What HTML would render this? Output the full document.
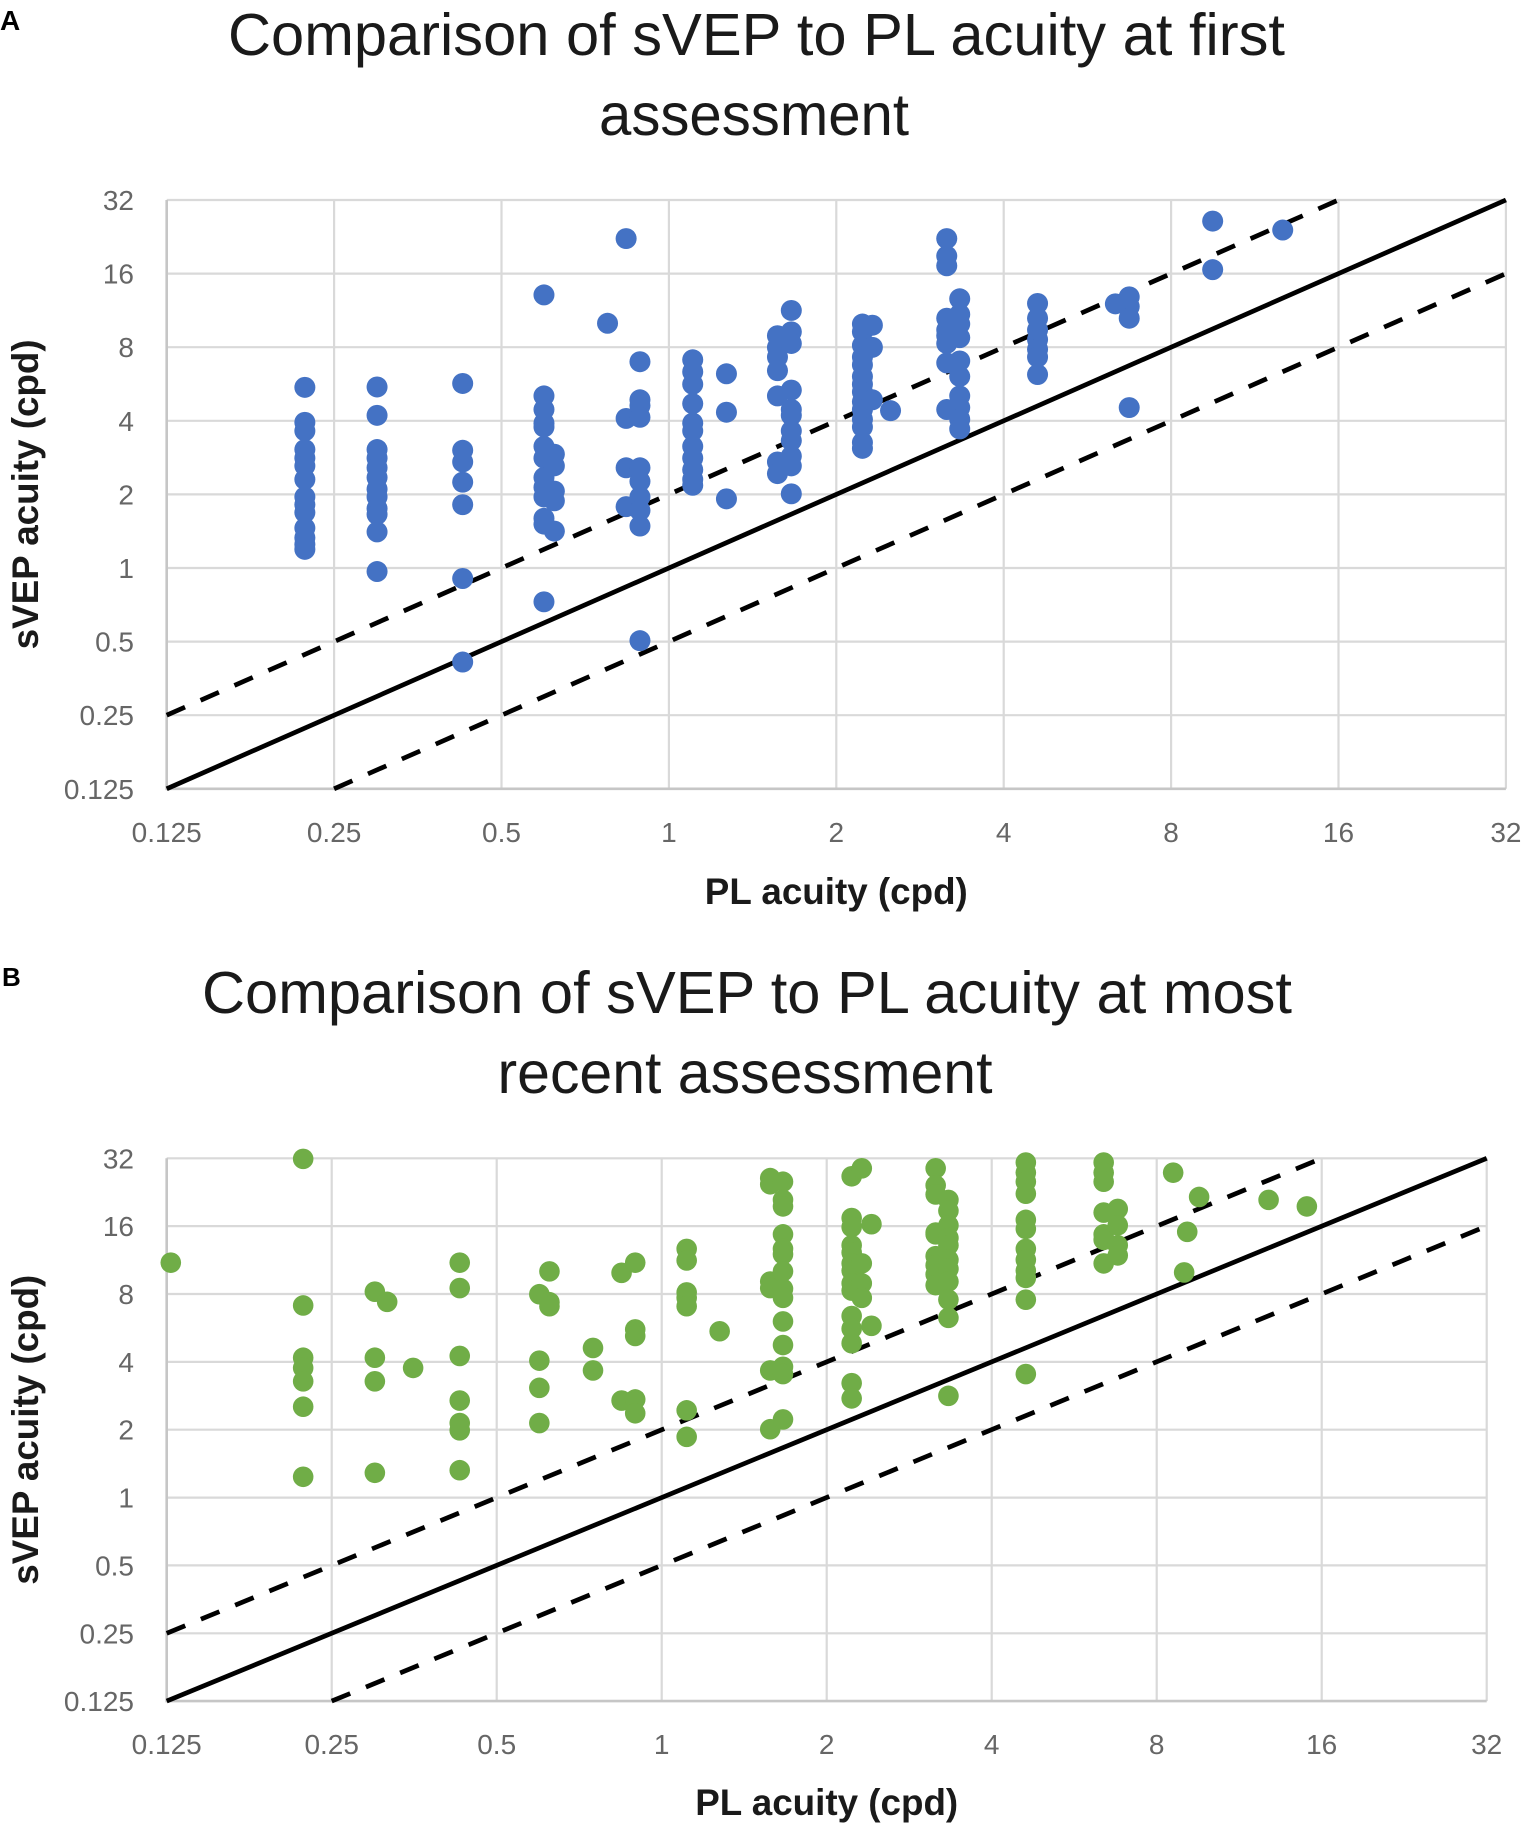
<!DOCTYPE html>
<html>
<head>
<meta charset="utf-8">
<style>
html,body{margin:0;padding:0;background:#fff;}
svg{display:block;}
.tk{font-family:"Liberation Sans",Arial,sans-serif;font-size:28px;fill:#666;}
.ttl{font-family:"Liberation Sans",Arial,sans-serif;font-size:59px;fill:#1a1a1a;}
.ax{font-family:"Liberation Sans",Arial,sans-serif;font-size:37px;font-weight:bold;fill:#1a1a1a;}
.pl{font-family:"Liberation Sans",Arial,sans-serif;font-weight:bold;fill:#000;}
.g{stroke:#d9d9d9;stroke-width:2.2;fill:none;}
.axl{stroke:#c6c6c6;stroke-width:2.6;fill:none;}
.sl{stroke:#000;stroke-width:4.7;fill:none;}
.dl{stroke:#000;stroke-width:4.7;fill:none;stroke-dasharray:20 17;}
</style>
</head>
<body>
<svg width="1524" height="1832" viewBox="0 0 1524 1832" xmlns="http://www.w3.org/2000/svg">
<rect x="0" y="0" width="1524" height="1832" fill="#fff"/>

<!-- ================= PANEL A ================= -->
<text class="pl" x="0" y="30" font-size="28">A</text>
<text class="ttl" x="756.5" y="55" text-anchor="middle" textLength="1057" lengthAdjust="spacingAndGlyphs">Comparison of sVEP to PL acuity at first</text>
<text class="ttl" x="754" y="135" text-anchor="middle" textLength="310" lengthAdjust="spacingAndGlyphs">assessment</text>

<g class="g">
<path d="M334.1,200V788.8 M501.5,200V788.8 M668.9,200V788.8 M836.3,200V788.8 M1003.7,200V788.8 M1171.1,200V788.8 M1338.5,200V788.8 M1505.9,200V788.8"/>
<path d="M166.7,200H1505.9 M166.7,273.6H1505.9 M166.7,347.2H1505.9 M166.7,420.8H1505.9 M166.7,494.4H1505.9 M166.7,568H1505.9 M166.7,641.6H1505.9 M166.7,715.2H1505.9"/>
</g>
<path class="axl" d="M166.7,200V788.8H1505.9"/>

<g class="tk" text-anchor="end">
<text x="134" y="210">32</text>
<text x="134" y="283.6">16</text>
<text x="134" y="357.2">8</text>
<text x="134" y="430.8">4</text>
<text x="134" y="504.4">2</text>
<text x="134" y="578">1</text>
<text x="134" y="651.6">0.5</text>
<text x="134" y="725.2">0.25</text>
<text x="134" y="798.8">0.125</text>
</g>
<g class="tk" text-anchor="middle">
<text x="166.7" y="842">0.125</text>
<text x="334.1" y="842">0.25</text>
<text x="501.5" y="842">0.5</text>
<text x="668.9" y="842">1</text>
<text x="836.3" y="842">2</text>
<text x="1003.7" y="842">4</text>
<text x="1171.1" y="842">8</text>
<text x="1338.5" y="842">16</text>
<text x="1505.9" y="842">32</text>
</g>
<text class="ax" x="836.3" y="904" text-anchor="middle" textLength="263" lengthAdjust="spacingAndGlyphs">PL acuity (cpd)</text>
<text class="ax" transform="translate(38,494.4) rotate(-90)" text-anchor="middle" textLength="310" lengthAdjust="spacingAndGlyphs">sVEP acuity (cpd)</text>

<path class="sl" d="M166.7,788.8L1505.9,200"/>
<path class="dl" d="M166.7,715.2L1338.5,200"/>
<path class="dl" d="M334.1,788.8L1505.9,273.6"/>

<g fill="#4472C4" transform="translate(160,190) scale(0.4324,0.3885)">
<ellipse cx="335" cy="508" rx="24.3" ry="27"/><ellipse cx="335" cy="598" rx="24.3" ry="27"/><ellipse cx="335" cy="620" rx="24.3" ry="27"/><ellipse cx="335" cy="668" rx="24.3" ry="27"/><ellipse cx="335" cy="690" rx="24.3" ry="27"/><ellipse cx="335" cy="710" rx="24.3" ry="27"/><ellipse cx="335" cy="745" rx="24.3" ry="27"/><ellipse cx="335" cy="790" rx="24.3" ry="27"/><ellipse cx="335" cy="810" rx="24.3" ry="27"/><ellipse cx="335" cy="830" rx="24.3" ry="27"/><ellipse cx="335" cy="870" rx="24.3" ry="27"/><ellipse cx="335" cy="895" rx="24.3" ry="27"/><ellipse cx="335" cy="912" rx="24.3" ry="27"/><ellipse cx="335" cy="925" rx="24.3" ry="27"/>
<ellipse cx="502" cy="507" rx="24.3" ry="27"/><ellipse cx="502" cy="580" rx="24.3" ry="27"/><ellipse cx="502" cy="668" rx="24.3" ry="27"/><ellipse cx="502" cy="690" rx="24.3" ry="27"/><ellipse cx="502" cy="715" rx="24.3" ry="27"/><ellipse cx="502" cy="740" rx="24.3" ry="27"/><ellipse cx="502" cy="770" rx="24.3" ry="27"/><ellipse cx="502" cy="790" rx="24.3" ry="27"/><ellipse cx="502" cy="820" rx="24.3" ry="27"/><ellipse cx="502" cy="835" rx="24.3" ry="27"/><ellipse cx="502" cy="880" rx="24.3" ry="27"/><ellipse cx="502" cy="982" rx="24.3" ry="27"/>
<ellipse cx="700" cy="498" rx="24.3" ry="27"/><ellipse cx="700" cy="670" rx="24.3" ry="27"/><ellipse cx="700" cy="700" rx="24.3" ry="27"/><ellipse cx="700" cy="752" rx="24.3" ry="27"/><ellipse cx="700" cy="810" rx="24.3" ry="27"/><ellipse cx="700" cy="1000" rx="24.3" ry="27"/><ellipse cx="700" cy="1215" rx="24.3" ry="27"/>
<ellipse cx="888" cy="270" rx="24.3" ry="27"/><ellipse cx="888" cy="530" rx="24.3" ry="27"/><ellipse cx="888" cy="565" rx="24.3" ry="27"/><ellipse cx="888" cy="600" rx="24.3" ry="27"/><ellipse cx="888" cy="610" rx="24.3" ry="27"/><ellipse cx="888" cy="660" rx="24.3" ry="27"/><ellipse cx="888" cy="690" rx="24.3" ry="27"/><ellipse cx="888" cy="740" rx="24.3" ry="27"/><ellipse cx="888" cy="765" rx="24.3" ry="27"/><ellipse cx="888" cy="790" rx="24.3" ry="27"/><ellipse cx="888" cy="845" rx="24.3" ry="27"/><ellipse cx="888" cy="860" rx="24.3" ry="27"/><ellipse cx="888" cy="1060" rx="24.3" ry="27"/>
<ellipse cx="912" cy="680" rx="24.3" ry="27"/><ellipse cx="912" cy="710" rx="24.3" ry="27"/><ellipse cx="912" cy="775" rx="24.3" ry="27"/><ellipse cx="912" cy="800" rx="24.3" ry="27"/><ellipse cx="912" cy="878" rx="24.3" ry="27"/>
<ellipse cx="1035" cy="343" rx="24.3" ry="27"/>
<ellipse cx="1078" cy="125" rx="24.3" ry="27"/><ellipse cx="1078" cy="588" rx="24.3" ry="27"/><ellipse cx="1078" cy="715" rx="24.3" ry="27"/><ellipse cx="1078" cy="815" rx="24.3" ry="27"/>
<ellipse cx="1110" cy="442" rx="24.3" ry="27"/><ellipse cx="1110" cy="540" rx="24.3" ry="27"/><ellipse cx="1110" cy="555" rx="24.3" ry="27"/><ellipse cx="1110" cy="585" rx="24.3" ry="27"/><ellipse cx="1110" cy="715" rx="24.3" ry="27"/><ellipse cx="1110" cy="750" rx="24.3" ry="27"/><ellipse cx="1110" cy="790" rx="24.3" ry="27"/><ellipse cx="1110" cy="825" rx="24.3" ry="27"/><ellipse cx="1110" cy="865" rx="24.3" ry="27"/><ellipse cx="1110" cy="1160" rx="24.3" ry="27"/>
<ellipse cx="1232" cy="437" rx="24.3" ry="27"/><ellipse cx="1232" cy="468" rx="24.3" ry="27"/><ellipse cx="1232" cy="500" rx="24.3" ry="27"/><ellipse cx="1232" cy="550" rx="24.3" ry="27"/><ellipse cx="1232" cy="600" rx="24.3" ry="27"/><ellipse cx="1232" cy="620" rx="24.3" ry="27"/><ellipse cx="1232" cy="660" rx="24.3" ry="27"/><ellipse cx="1232" cy="690" rx="24.3" ry="27"/><ellipse cx="1232" cy="720" rx="24.3" ry="27"/><ellipse cx="1232" cy="745" rx="24.3" ry="27"/><ellipse cx="1232" cy="760" rx="24.3" ry="27"/>
<ellipse cx="1310" cy="473" rx="24.3" ry="27"/><ellipse cx="1310" cy="572" rx="24.3" ry="27"/><ellipse cx="1310" cy="795" rx="24.3" ry="27"/>
<ellipse cx="1428" cy="375" rx="24.3" ry="27"/><ellipse cx="1428" cy="405" rx="24.3" ry="27"/><ellipse cx="1428" cy="430" rx="24.3" ry="27"/><ellipse cx="1428" cy="465" rx="24.3" ry="27"/><ellipse cx="1428" cy="530" rx="24.3" ry="27"/><ellipse cx="1428" cy="700" rx="24.3" ry="27"/><ellipse cx="1428" cy="730" rx="24.3" ry="27"/>
<ellipse cx="1460" cy="310" rx="24.3" ry="27"/><ellipse cx="1460" cy="365" rx="24.3" ry="27"/><ellipse cx="1460" cy="395" rx="24.3" ry="27"/><ellipse cx="1460" cy="515" rx="24.3" ry="27"/><ellipse cx="1460" cy="565" rx="24.3" ry="27"/><ellipse cx="1460" cy="580" rx="24.3" ry="27"/><ellipse cx="1460" cy="620" rx="24.3" ry="27"/><ellipse cx="1460" cy="645" rx="24.3" ry="27"/><ellipse cx="1460" cy="685" rx="24.3" ry="27"/><ellipse cx="1460" cy="710" rx="24.3" ry="27"/><ellipse cx="1460" cy="782" rx="24.3" ry="27"/>
</g>

<g fill="#4472C4" transform="translate(830,190) scale(0.4324,0.3885)">
<ellipse cx="75" cy="345" rx="24.3" ry="27"/><ellipse cx="75" cy="365" rx="24.3" ry="27"/><ellipse cx="75" cy="400" rx="24.3" ry="27"/><ellipse cx="75" cy="430" rx="24.3" ry="27"/><ellipse cx="75" cy="450" rx="24.3" ry="27"/><ellipse cx="75" cy="480" rx="24.3" ry="27"/><ellipse cx="75" cy="500" rx="24.3" ry="27"/><ellipse cx="75" cy="520" rx="24.3" ry="27"/><ellipse cx="75" cy="545" rx="24.3" ry="27"/><ellipse cx="75" cy="565" rx="24.3" ry="27"/><ellipse cx="75" cy="590" rx="24.3" ry="27"/><ellipse cx="75" cy="610" rx="24.3" ry="27"/><ellipse cx="75" cy="650" rx="24.3" ry="27"/><ellipse cx="75" cy="665" rx="24.3" ry="27"/>
<ellipse cx="98" cy="348" rx="24.3" ry="27"/><ellipse cx="98" cy="405" rx="24.3" ry="27"/><ellipse cx="98" cy="540" rx="24.3" ry="27"/>
<ellipse cx="140" cy="568" rx="24.3" ry="27"/>
<ellipse cx="270" cy="125" rx="24.3" ry="27"/><ellipse cx="270" cy="170" rx="24.3" ry="27"/><ellipse cx="270" cy="195" rx="24.3" ry="27"/><ellipse cx="270" cy="330" rx="24.3" ry="27"/><ellipse cx="270" cy="360" rx="24.3" ry="27"/><ellipse cx="270" cy="375" rx="24.3" ry="27"/><ellipse cx="270" cy="395" rx="24.3" ry="27"/><ellipse cx="270" cy="445" rx="24.3" ry="27"/><ellipse cx="270" cy="565" rx="24.3" ry="27"/>
<ellipse cx="300" cy="280" rx="24.3" ry="27"/><ellipse cx="300" cy="320" rx="24.3" ry="27"/><ellipse cx="300" cy="345" rx="24.3" ry="27"/><ellipse cx="300" cy="380" rx="24.3" ry="27"/><ellipse cx="300" cy="440" rx="24.3" ry="27"/><ellipse cx="300" cy="480" rx="24.3" ry="27"/><ellipse cx="300" cy="530" rx="24.3" ry="27"/><ellipse cx="300" cy="560" rx="24.3" ry="27"/><ellipse cx="300" cy="590" rx="24.3" ry="27"/><ellipse cx="300" cy="615" rx="24.3" ry="27"/>
<ellipse cx="480" cy="292" rx="24.3" ry="27"/><ellipse cx="480" cy="330" rx="24.3" ry="27"/><ellipse cx="480" cy="360" rx="24.3" ry="27"/><ellipse cx="480" cy="385" rx="24.3" ry="27"/><ellipse cx="480" cy="410" rx="24.3" ry="27"/><ellipse cx="480" cy="430" rx="24.3" ry="27"/><ellipse cx="480" cy="475" rx="24.3" ry="27"/>
<ellipse cx="660" cy="293" rx="24.3" ry="27"/>
<ellipse cx="692" cy="275" rx="24.3" ry="27"/><ellipse cx="692" cy="300" rx="24.3" ry="27"/><ellipse cx="692" cy="330" rx="24.3" ry="27"/><ellipse cx="692" cy="560" rx="24.3" ry="27"/>
<ellipse cx="885" cy="80" rx="24.3" ry="27"/><ellipse cx="885" cy="205" rx="24.3" ry="27"/>
<ellipse cx="1047" cy="103" rx="24.3" ry="27"/>
</g>

<!-- ================= PANEL B ================= -->
<text class="pl" x="2" y="986" font-size="26">B</text>
<text class="ttl" x="747" y="1013" text-anchor="middle" textLength="1090" lengthAdjust="spacingAndGlyphs">Comparison of sVEP to PL acuity at most</text>
<text class="ttl" x="745" y="1093" text-anchor="middle" textLength="495" lengthAdjust="spacingAndGlyphs">recent assessment</text>

<g class="g">
<path d="M331.7,1158.3V1701.1 M496.7,1158.3V1701.1 M661.7,1158.3V1701.1 M826.7,1158.3V1701.1 M991.7,1158.3V1701.1 M1156.7,1158.3V1701.1 M1321.7,1158.3V1701.1 M1486.7,1158.3V1701.1"/>
<path d="M166.7,1158.3H1486.7 M166.7,1226.1H1486.7 M166.7,1294H1486.7 M166.7,1361.9H1486.7 M166.7,1429.7H1486.7 M166.7,1497.6H1486.7 M166.7,1565.4H1486.7 M166.7,1633.3H1486.7"/>
</g>
<path class="axl" d="M166.7,1158.3V1701.1H1486.7"/>

<g class="tk" text-anchor="end">
<text x="134" y="1168.3">32</text>
<text x="134" y="1236.1">16</text>
<text x="134" y="1304">8</text>
<text x="134" y="1371.9">4</text>
<text x="134" y="1439.7">2</text>
<text x="134" y="1507.6">1</text>
<text x="134" y="1575.4">0.5</text>
<text x="134" y="1643.3">0.25</text>
<text x="134" y="1711.1">0.125</text>
</g>
<g class="tk" text-anchor="middle">
<text x="166.7" y="1754">0.125</text>
<text x="331.7" y="1754">0.25</text>
<text x="496.7" y="1754">0.5</text>
<text x="661.7" y="1754">1</text>
<text x="826.7" y="1754">2</text>
<text x="991.7" y="1754">4</text>
<text x="1156.7" y="1754">8</text>
<text x="1321.7" y="1754">16</text>
<text x="1486.7" y="1754">32</text>
</g>
<text class="ax" x="826.7" y="1815" text-anchor="middle" textLength="263" lengthAdjust="spacingAndGlyphs">PL acuity (cpd)</text>
<text class="ax" transform="translate(38,1429.7) rotate(-90)" text-anchor="middle" textLength="310" lengthAdjust="spacingAndGlyphs">sVEP acuity (cpd)</text>

<path class="sl" d="M166.7,1701.1L1486.7,1158.3"/>
<path class="dl" d="M166.7,1633.3L1321.7,1158.3"/>
<path class="dl" d="M331.7,1701.1L1486.7,1226.1"/>

<g fill="#70AD47" transform="translate(140,1140) scale(0.4398,0.3629)">
<ellipse cx="70" cy="338" rx="23.4" ry="28.4"/>
<ellipse cx="371" cy="52" rx="23.4" ry="28.4"/><ellipse cx="371" cy="456" rx="23.4" ry="28.4"/><ellipse cx="371" cy="600" rx="23.4" ry="28.4"/><ellipse cx="371" cy="628" rx="23.4" ry="28.4"/><ellipse cx="371" cy="665" rx="23.4" ry="28.4"/><ellipse cx="371" cy="735" rx="23.4" ry="28.4"/><ellipse cx="371" cy="928" rx="23.4" ry="28.4"/>
<ellipse cx="534" cy="418" rx="23.4" ry="28.4"/><ellipse cx="534" cy="600" rx="23.4" ry="28.4"/><ellipse cx="534" cy="665" rx="23.4" ry="28.4"/><ellipse cx="534" cy="917" rx="23.4" ry="28.4"/>
<ellipse cx="562" cy="446" rx="23.4" ry="28.4"/><ellipse cx="621" cy="628" rx="23.4" ry="28.4"/>
<ellipse cx="727" cy="338" rx="23.4" ry="28.4"/><ellipse cx="727" cy="408" rx="23.4" ry="28.4"/><ellipse cx="727" cy="595" rx="23.4" ry="28.4"/><ellipse cx="727" cy="718" rx="23.4" ry="28.4"/><ellipse cx="727" cy="780" rx="23.4" ry="28.4"/><ellipse cx="727" cy="800" rx="23.4" ry="28.4"/><ellipse cx="727" cy="910" rx="23.4" ry="28.4"/>
<ellipse cx="908" cy="425" rx="23.4" ry="28.4"/><ellipse cx="908" cy="608" rx="23.4" ry="28.4"/><ellipse cx="908" cy="683" rx="23.4" ry="28.4"/><ellipse cx="908" cy="780" rx="23.4" ry="28.4"/>
<ellipse cx="931" cy="362" rx="23.4" ry="28.4"/><ellipse cx="931" cy="447" rx="23.4" ry="28.4"/><ellipse cx="931" cy="458" rx="23.4" ry="28.4"/>
<ellipse cx="1030" cy="573" rx="23.4" ry="28.4"/><ellipse cx="1030" cy="635" rx="23.4" ry="28.4"/>
<ellipse cx="1095" cy="366" rx="23.4" ry="28.4"/><ellipse cx="1095" cy="718" rx="23.4" ry="28.4"/>
<ellipse cx="1126" cy="338" rx="23.4" ry="28.4"/><ellipse cx="1126" cy="522" rx="23.4" ry="28.4"/><ellipse cx="1126" cy="540" rx="23.4" ry="28.4"/><ellipse cx="1126" cy="715" rx="23.4" ry="28.4"/><ellipse cx="1126" cy="753" rx="23.4" ry="28.4"/>
<ellipse cx="1243" cy="300" rx="23.4" ry="28.4"/><ellipse cx="1243" cy="332" rx="23.4" ry="28.4"/><ellipse cx="1243" cy="420" rx="23.4" ry="28.4"/><ellipse cx="1243" cy="435" rx="23.4" ry="28.4"/><ellipse cx="1243" cy="458" rx="23.4" ry="28.4"/><ellipse cx="1243" cy="745" rx="23.4" ry="28.4"/><ellipse cx="1243" cy="818" rx="23.4" ry="28.4"/>
<ellipse cx="1318" cy="527" rx="23.4" ry="28.4"/>
<ellipse cx="1433" cy="105" rx="23.4" ry="28.4"/><ellipse cx="1433" cy="122" rx="23.4" ry="28.4"/><ellipse cx="1433" cy="390" rx="23.4" ry="28.4"/><ellipse cx="1433" cy="408" rx="23.4" ry="28.4"/><ellipse cx="1433" cy="635" rx="23.4" ry="28.4"/><ellipse cx="1433" cy="797" rx="23.4" ry="28.4"/>
<ellipse cx="1462" cy="115" rx="23.4" ry="28.4"/><ellipse cx="1462" cy="165" rx="23.4" ry="28.4"/><ellipse cx="1462" cy="183" rx="23.4" ry="28.4"/><ellipse cx="1462" cy="260" rx="23.4" ry="28.4"/><ellipse cx="1462" cy="300" rx="23.4" ry="28.4"/><ellipse cx="1462" cy="315" rx="23.4" ry="28.4"/><ellipse cx="1462" cy="362" rx="23.4" ry="28.4"/><ellipse cx="1462" cy="410" rx="23.4" ry="28.4"/><ellipse cx="1462" cy="435" rx="23.4" ry="28.4"/><ellipse cx="1462" cy="500" rx="23.4" ry="28.4"/><ellipse cx="1462" cy="565" rx="23.4" ry="28.4"/><ellipse cx="1462" cy="625" rx="23.4" ry="28.4"/><ellipse cx="1462" cy="645" rx="23.4" ry="28.4"/><ellipse cx="1462" cy="770" rx="23.4" ry="28.4"/>
</g>

<g fill="#70AD47" transform="translate(820,1140) scale(0.4398,0.3629)">
<ellipse cx="72" cy="100" rx="23.4" ry="28.4"/><ellipse cx="72" cy="215" rx="23.4" ry="28.4"/><ellipse cx="72" cy="240" rx="23.4" ry="28.4"/><ellipse cx="72" cy="290" rx="23.4" ry="28.4"/><ellipse cx="72" cy="310" rx="23.4" ry="28.4"/><ellipse cx="72" cy="340" rx="23.4" ry="28.4"/><ellipse cx="72" cy="360" rx="23.4" ry="28.4"/><ellipse cx="72" cy="395" rx="23.4" ry="28.4"/><ellipse cx="72" cy="415" rx="23.4" ry="28.4"/><ellipse cx="72" cy="485" rx="23.4" ry="28.4"/><ellipse cx="72" cy="520" rx="23.4" ry="28.4"/><ellipse cx="72" cy="560" rx="23.4" ry="28.4"/><ellipse cx="72" cy="670" rx="23.4" ry="28.4"/><ellipse cx="72" cy="712" rx="23.4" ry="28.4"/>
<ellipse cx="95" cy="78" rx="23.4" ry="28.4"/><ellipse cx="95" cy="340" rx="23.4" ry="28.4"/><ellipse cx="95" cy="395" rx="23.4" ry="28.4"/><ellipse cx="95" cy="435" rx="23.4" ry="28.4"/>
<ellipse cx="117" cy="232" rx="23.4" ry="28.4"/><ellipse cx="117" cy="512" rx="23.4" ry="28.4"/>
<ellipse cx="263" cy="78" rx="23.4" ry="28.4"/><ellipse cx="263" cy="125" rx="23.4" ry="28.4"/><ellipse cx="263" cy="150" rx="23.4" ry="28.4"/><ellipse cx="263" cy="255" rx="23.4" ry="28.4"/><ellipse cx="263" cy="260" rx="23.4" ry="28.4"/><ellipse cx="263" cy="320" rx="23.4" ry="28.4"/><ellipse cx="263" cy="345" rx="23.4" ry="28.4"/><ellipse cx="263" cy="370" rx="23.4" ry="28.4"/><ellipse cx="263" cy="400" rx="23.4" ry="28.4"/>
<ellipse cx="292" cy="165" rx="23.4" ry="28.4"/><ellipse cx="292" cy="195" rx="23.4" ry="28.4"/><ellipse cx="292" cy="235" rx="23.4" ry="28.4"/><ellipse cx="292" cy="270" rx="23.4" ry="28.4"/><ellipse cx="292" cy="290" rx="23.4" ry="28.4"/><ellipse cx="292" cy="330" rx="23.4" ry="28.4"/><ellipse cx="292" cy="355" rx="23.4" ry="28.4"/><ellipse cx="292" cy="390" rx="23.4" ry="28.4"/><ellipse cx="292" cy="440" rx="23.4" ry="28.4"/><ellipse cx="292" cy="490" rx="23.4" ry="28.4"/><ellipse cx="292" cy="705" rx="23.4" ry="28.4"/>
<ellipse cx="468" cy="62" rx="23.4" ry="28.4"/><ellipse cx="468" cy="90" rx="23.4" ry="28.4"/><ellipse cx="468" cy="115" rx="23.4" ry="28.4"/><ellipse cx="468" cy="148" rx="23.4" ry="28.4"/><ellipse cx="468" cy="220" rx="23.4" ry="28.4"/><ellipse cx="468" cy="245" rx="23.4" ry="28.4"/><ellipse cx="468" cy="300" rx="23.4" ry="28.4"/><ellipse cx="468" cy="330" rx="23.4" ry="28.4"/><ellipse cx="468" cy="360" rx="23.4" ry="28.4"/><ellipse cx="468" cy="380" rx="23.4" ry="28.4"/><ellipse cx="468" cy="440" rx="23.4" ry="28.4"/><ellipse cx="468" cy="645" rx="23.4" ry="28.4"/>
<ellipse cx="645" cy="62" rx="23.4" ry="28.4"/><ellipse cx="645" cy="90" rx="23.4" ry="28.4"/><ellipse cx="645" cy="115" rx="23.4" ry="28.4"/><ellipse cx="645" cy="200" rx="23.4" ry="28.4"/><ellipse cx="645" cy="260" rx="23.4" ry="28.4"/><ellipse cx="645" cy="275" rx="23.4" ry="28.4"/><ellipse cx="645" cy="340" rx="23.4" ry="28.4"/>
<ellipse cx="677" cy="190" rx="23.4" ry="28.4"/><ellipse cx="677" cy="235" rx="23.4" ry="28.4"/><ellipse cx="677" cy="290" rx="23.4" ry="28.4"/><ellipse cx="677" cy="318" rx="23.4" ry="28.4"/>
<ellipse cx="803" cy="90" rx="23.4" ry="28.4"/><ellipse cx="862" cy="157" rx="23.4" ry="28.4"/><ellipse cx="835" cy="253" rx="23.4" ry="28.4"/><ellipse cx="828" cy="365" rx="23.4" ry="28.4"/>
<ellipse cx="1020" cy="165" rx="23.4" ry="28.4"/><ellipse cx="1107" cy="183" rx="23.4" ry="28.4"/>
</g>
</svg>
</body>
</html>
